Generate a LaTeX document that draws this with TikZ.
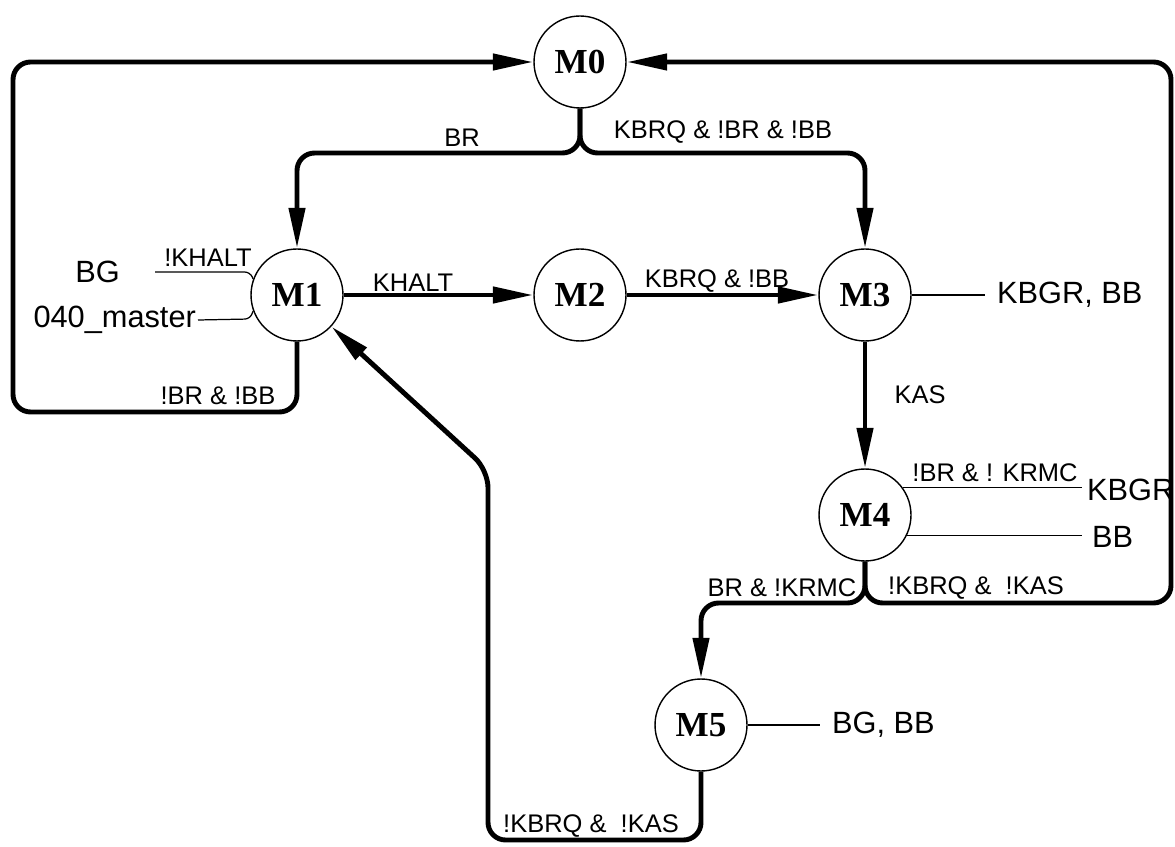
\documentclass[tikz,border=0pt]{standalone}
\usepackage{fontspec}
\setmainfont{Liberation Sans}
\newfontfamily\stfont{Liberation Serif}
\usepackage{tikz}
\usetikzlibrary{arrows.meta}
\tikzset{
  ar/.style={-{Triangle[length=23pt,width=9pt]},line width=2.8pt,rounded corners=10pt},
  st/.style={draw,circle,line width=0.8pt,minimum size=1.84cm,inner sep=0pt,font=\stfont\bfseries\fontsize{20}{24}\selectfont},
  cond/.style={font=\fontsize{14.5}{17}\selectfont,inner sep=1pt},
  outp/.style={font=\fontsize{17.5}{21}\selectfont,inner sep=1pt},
  wire/.style={line width=0.7pt,rounded corners=3pt}
}

\begin{document}
\begin{tikzpicture}[x=0.02cm,y=-0.02cm]
\useasboundingbox (0,0) rectangle (1175,847);
\node[st] (m0) at (580,62) {M0};
\node[st] (m1) at (297,295) {M1};
\node[st] (m2) at (580,295) {M2};
\node[st] (m3) at (865,295) {M3};
\node[st] (m4) at (865,515) {M4};
\node[st] (m5) at (701,725) {M5};
\coordinate (fork) at (0,153);
\coordinate (lbase) at (13,412);
\coordinate (rbase) at (1171,603);
\coordinate (bbase) at (488,840);
\coordinate (kink) at (488,470);
\draw[ar] (m0.south) -- (m0 |- fork) -- (m1 |- fork) -- (m1);
\draw[ar] (m0.south) -- (m0 |- fork) -- (m3 |- fork) -- (m3);
\draw[ar] (m1.south) -- (m1 |- lbase) -- (lbase) -- (lbase |- m0) -- (m0);
\draw[ar] (m1) -- (m2);
\draw[ar] (m2) -- (m3);
\draw[ar] (m3) -- (m4);
\draw[ar] (m4.south) -- (m4 |- rbase) -- (m5 |- rbase) -- (m5);
\draw[ar] (m4.south) -- (m4 |- rbase) -- (rbase) -- (rbase |- m0) -- (m0);
\draw[ar] (m5.south) -- (m5 |- bbase) -- (bbase) -- (kink) -- (m1);
\node[cond] (lbr) at (462,138) {BR};
\node[cond] (lkrq) at (723,132) {KBRQ \& !BR \& !BB};
\node[cond] (lbrbb) at (218,396) {!BR \& !BB};
\node[cond] (lkh) at (413,283) {KHALT};
\node[cond] (lkb) at (717,281) {KBRQ \& !BB};
\node[cond] (lkas) at (920,395) {KAS};
\node[cond] (lbrk) at (782,588) {BR \& !KRMC};
\node[cond] (lnk4) at (976,588) {!KBRQ \&\ \ !KAS};
\node[cond] (lnk5) at (591,826) {!KBRQ \&\ \ !KAS};
\node[cond] (lnkh) at (208,258) {!KHALT};
\node[cond] (lnkr) at (995,473) {!BR \& ! KRMC};
\node[outp,anchor=east] (obg) at (122,272) {BG};
\node[outp,anchor=east] (omst) at (198,320) {040\_master};
\node[outp,anchor=west] (o3) at (995,295) {KBGR, BB};
\node[outp,anchor=west] (o4a) at (1085,490) {KBGR};
\node[outp,anchor=west] (o4b) at (1090,537) {BB};
\node[outp,anchor=west] (o5) at (830,725) {BG, BB};
\coordinate (wbg) at (155,272);
\coordinate (w3) at (985,295);
\coordinate (w4) at (1082,0);
\coordinate (w5) at (820,725);
\draw[wire] (wbg) -- (250,272) -- (m1.160);
\draw[wire] (omst.east) -- (250,319) -- (m1.200);
\draw[wire] (m3) -- (w3);
\draw[wire] (m4.36) -- (w4 |- m4.36);
\draw[wire] (m4.-26) -- (w4 |- m4.-26);
\draw[wire] (m5) -- (w5);
\end{tikzpicture}
\end{document}
